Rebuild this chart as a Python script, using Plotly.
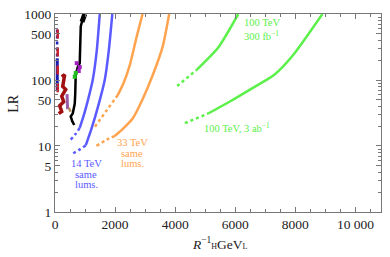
import plotly.graph_objects as go

# ---------------- data ----------------
blue_l_solid_x = [1490, 1390, 1257, 1090, 957, 823]
blue_l_solid_y = [1000, 279, 101, 48.3, 29.1, 18.8]
blue_l_dot_x = [823, 690, 523]
blue_l_dot_y = [18.8, 15.3, 12.5]

blue_r_solid_x = [1907, 1790, 1657, 1457, 1223, 1023]
blue_r_solid_y = [1000, 279, 101, 43.6, 18.8, 10.2]
blue_r_dot_x = [1023, 790, 557]
blue_r_dot_y = [10.2, 8.66, 7.55]

orange_l_solid_x = [2913, 2723, 2490, 2290, 2090]
orange_l_solid_y = [1000, 462, 168, 91.6, 59.1]
orange_l_dot_x = [2090, 1690, 1323]
orange_l_dot_y = [59.1, 33.3, 19.4]

orange_r_solid_x = [3800, 3590, 3257, 2923, 2590, 2250, 1990]
orange_r_solid_y = [1000, 330, 120, 51.9, 26.3, 18.0, 14.2]
orange_r_dot_x = [1990, 1723, 1357]
orange_r_dot_y = [14.2, 12.5, 9.9]

green_u_solid_x = [4713, 5433, 6100]
green_u_solid_y = [142, 311, 1000]
green_u_dot_x = [4067, 4713]
green_u_dot_y = [80.9, 142]

green_l_solid_x = [5100, 5823, 6600, 7300, 7913, 8900]
green_l_solid_y = [31.1, 47.2, 76.6, 120, 235, 1000]
green_l_dot_x = [4323, 5100]
green_l_dot_y = [22.2, 31.1]

black_x = [990, 923, 857, 840, 823, 757, 690, 673, 657, 590, 523, 573, 640]
black_y = [1000, 847, 647, 330, 180, 157, 120, 61, 43.6, 31, 28, 23.8, 20.8]
black_top_x = [990, 940, 900]
black_top_y = [1000, 900, 760]

red_dash_x = [90, 90]
red_dash_y = [585, 65]
blue_dash_x = [75, 75]
blue_dash_y = [213, 68]
blue_dot_x = [70, 70]
blue_dot_y = [585, 213]

darkred_x = [223, 323, 257, 357, 223, 290, 157, 223, 123]
darkred_y = [112, 120, 80, 72, 57, 46.8, 40.8, 33.3, 31]

purple_x = [400, 410, 420]
purple_y = [61, 45, 36]
tan_x = [460, 520]
tan_y = [38, 33]

purple_pts_x = [723, 823, 790]
purple_pts_y = [180, 157, 137]
green_pts_x = [690, 657]
green_pts_y = [128, 112]

x_ticks = [0, 2000, 4000, 6000, 8000, 10000]
x_ticktext = ["0", "2000", "4000", "6000", "8000", "10 000"]
y_ticks = [1, 5, 10, 50, 100, 500, 1000]
y_ticktext = ["1", "5", "10", "50", "100", "500", "1000"]
y_minor = [2, 3, 4, 6, 7, 8, 9, 20, 30, 40, 60, 70, 80, 90,
           200, 300, 400, 600, 700, 800, 900]

label_14 = ["14 TeV", "same", "lums."]
label_33 = ["33 TeV", "same", "lums."]
label_100a = ["100 TeV", "300 fb<sup>−1</sup>"]
label_100b = "100 TeV, 3 ab<sup>−1</sup>"

BLUE = "#5a5aff"
ORANGE = "#ffa34f"
GREEN = "#5cf04a"
FONT = "Liberation Serif"

fig = go.Figure()

def add_line(x, y, color, width=2.5, dash="solid"):
    fig.add_trace(go.Scatter(x=x, y=y, mode="lines",
                             line=dict(color=color, width=width, dash=dash,
                                       shape="spline", smoothing=0.6),
                             showlegend=False, hoverinfo="skip"))

add_line(blue_l_solid_x, blue_l_solid_y, BLUE)
add_line(blue_l_dot_x, blue_l_dot_y, BLUE, dash="dot")
add_line(blue_r_solid_x, blue_r_solid_y, BLUE)
add_line(blue_r_dot_x, blue_r_dot_y, BLUE, dash="dot")
add_line(orange_l_solid_x, orange_l_solid_y, ORANGE)
add_line(orange_l_dot_x, orange_l_dot_y, ORANGE, dash="dot")
add_line(orange_r_solid_x, orange_r_solid_y, ORANGE)
add_line(orange_r_dot_x, orange_r_dot_y, ORANGE, dash="dot")
add_line(green_u_solid_x, green_u_solid_y, GREEN)
add_line(green_u_dot_x, green_u_dot_y, GREEN, dash="dot")
add_line(green_l_solid_x, green_l_solid_y, GREEN)
add_line(green_l_dot_x, green_l_dot_y, GREEN, dash="dot")

fig.add_trace(go.Scatter(x=blue_dot_x, y=blue_dot_y, mode="lines",
                         line=dict(color="#2020c0", width=2.5, dash="dot"),
                         showlegend=False, hoverinfo="skip"))
fig.add_trace(go.Scatter(x=blue_dash_x, y=blue_dash_y, mode="lines",
                         line=dict(color="#1a1ab0", width=3),
                         showlegend=False, hoverinfo="skip"))
fig.add_trace(go.Scatter(x=red_dash_x, y=red_dash_y, mode="lines",
                         line=dict(color="#c8202a", width=2.5, dash="dash"),
                         showlegend=False, hoverinfo="skip"))
fig.add_trace(go.Scatter(x=darkred_x, y=darkred_y, mode="lines",
                         line=dict(color="#a01010", width=3.5),
                         showlegend=False, hoverinfo="skip"))
fig.add_trace(go.Scatter(x=purple_x, y=purple_y, mode="lines",
                         line=dict(color="#9a5aa8", width=3),
                         showlegend=False, hoverinfo="skip"))
fig.add_trace(go.Scatter(x=tan_x, y=tan_y, mode="lines",
                         line=dict(color="#b89060", width=2.5),
                         showlegend=False, hoverinfo="skip"))
fig.add_trace(go.Scatter(x=black_x, y=black_y, mode="lines",
                         line=dict(color="black", width=2.5),
                         showlegend=False, hoverinfo="skip"))
fig.add_trace(go.Scatter(x=black_top_x, y=black_top_y, mode="lines",
                         line=dict(color="black", width=5),
                         showlegend=False, hoverinfo="skip"))
fig.add_trace(go.Scatter(x=purple_pts_x, y=purple_pts_y, mode="markers",
                         marker=dict(color="#a020c0", size=4, symbol="square"),
                         showlegend=False, hoverinfo="skip"))
fig.add_trace(go.Scatter(x=green_pts_x, y=green_pts_y, mode="markers",
                         marker=dict(color="#20c020", size=4, symbol="square"),
                         showlegend=False, hoverinfo="skip"))

axis_common = dict(showline=True, linecolor="#777", linewidth=1, mirror="ticks",
                   ticks="inside", ticklen=5, tickwidth=1, tickcolor="#777",
                   showgrid=False, zeroline=False, ticklabeloverflow="allow",
                   tickfont=dict(family=FONT, size=13.5, color="#222"))

fig.update_layout(
    width=390, height=257,
    margin=dict(l=55, r=9, t=7, b=45),
    paper_bgcolor="white", plot_bgcolor="white",
    xaxis=dict(range=[0, 10850], tickvals=x_ticks, ticktext=x_ticktext,
               minor=dict(dtick=500, tick0=0, ticks="inside", ticklen=3,
                          tickcolor="#777"),
               **axis_common),
    yaxis=dict(type="log", range=[-0.0005, 3.0005], tickvals=y_ticks,
               ticktext=y_ticktext,
               minor=dict(tickvals=y_minor, ticks="inside", ticklen=3,
                          tickcolor="#777"),
               **axis_common),
)


def pann(text, px, py, color, xanchor="center", size=10.5, angle=0):
    fig.add_annotation(text=text, xref="paper", yref="paper",
                       x=(px - 55) / 326, y=(212 - py) / 205,
                       xanchor=xanchor, yanchor="middle", showarrow=False,
                       textangle=angle, borderpad=0,
                       font=dict(family=FONT, size=size, color=color))

for i, t in enumerate(label_14):
    pann(t, 86, 162 + 11 * i, BLUE)
for i, t in enumerate(label_33):
    pann(t, 132, 140 + 11 * i, ORANGE)
pann(label_100a[0], 243, 16, GREEN, xanchor="left")
pann(label_100a[1], 243, 29, GREEN, xanchor="left")
pann(label_100b, 203, 125, GREEN, xanchor="left")
pann("<i>R</i><sup>−1</sup><span style='font-size:8px'>H</span>GeV<span style='font-size:8px'>L</span>",
     220, 245, "#222", size=13.5)
pann("LR", 14, 100, "#222", size=14, angle=-90)

fig.write_html("out.html", config={"displayModeBar": False},
               post_script="document.body.style.margin='0px';document.body.style.padding='0px';")
